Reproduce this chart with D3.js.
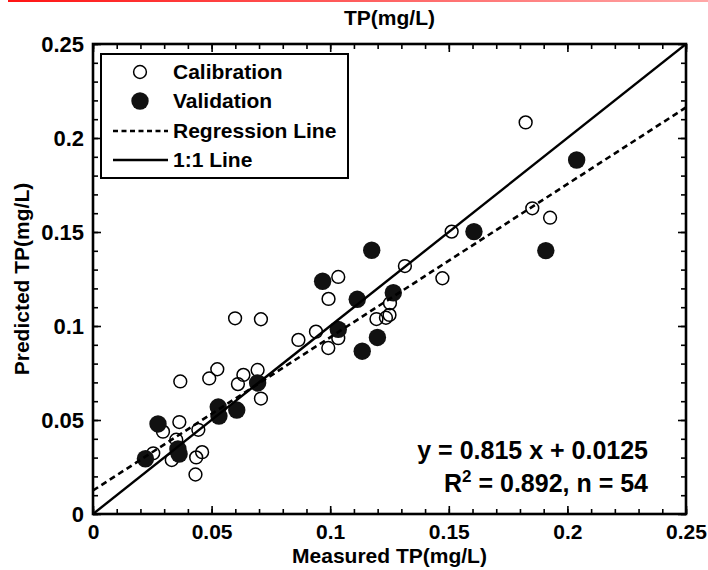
<!DOCTYPE html>
<html>
<head>
<meta charset="utf-8">
<script src="https://cdn.jsdelivr.net/npm/d3@7"></script>
<style>
  body { margin: 0; background: #fff; }
  svg text { font-family: "Liberation Sans", Arial, sans-serif; font-weight: bold; fill: #000; }
</style>
</head>
<body>
<div id="chart"></div>
<script>
// Calibration points (open circles)
var calX = [0.1824, 0.1852, 0.1927, 0.1512, 0.1315, 0.1473, 0.1034, 0.0993, 0.1252, 0.1195,
            0.1235, 0.1250, 0.0940, 0.1034, 0.0992, 0.0866, 0.0599, 0.0708, 0.0524, 0.0490,
            0.0634, 0.0611, 0.0694, 0.0708, 0.0368, 0.0364, 0.0295, 0.0351, 0.0444, 0.0460,
            0.0435, 0.0432, 0.0332, 0.0254];
var calY = [0.2083, 0.1626, 0.1576, 0.1502, 0.1319, 0.1254, 0.1261, 0.1144, 0.1121, 0.1037,
            0.1044, 0.1059, 0.0970, 0.0935, 0.0883, 0.0926, 0.1041, 0.1036, 0.0770, 0.0721,
            0.0740, 0.0691, 0.0766, 0.0614, 0.0705, 0.0489, 0.0438, 0.0395, 0.0448, 0.0329,
            0.0301, 0.0210, 0.0287, 0.0323];

// Validation points (filled circles)
var valX = [0.2039, 0.1909, 0.1606, 0.1175, 0.0968, 0.1114, 0.1266, 0.1034, 0.1199, 0.1135,
            0.0694, 0.0528, 0.0531, 0.0606, 0.0274, 0.0358, 0.0363, 0.0221];
var valY = [0.1883, 0.1401, 0.1502, 0.1403, 0.1238, 0.1142, 0.1177, 0.0982, 0.0939, 0.0866,
            0.0697, 0.0569, 0.0521, 0.0553, 0.0479, 0.0346, 0.0319, 0.0294];

var slope = 0.815, intercept = 0.0125;
var majorTicks = [0, 0.05, 0.1, 0.15, 0.2, 0.25];
var tickLabels = ["0", "0.05", "0.1", "0.15", "0.2", "0.25"];
var minorTicks = d3.range(0, 0.2501, 0.01);

var legendItems = ["Calibration", "Validation", "Regression Line", "1:1 Line"];
var eqLines = ["y = 0.815 x + 0.0125", "R", "2", " = 0.892, n = 54"];

var W = 708, H = 570;
var plot = { left: 93, right: 686, top: 44, bottom: 514 };

var svg = d3.select("#chart").append("svg")
  .attr("width", W)
  .attr("height", H);

// red strip at the very top
var grad = svg.append("defs").append("linearGradient")
  .attr("id", "topbar");
grad.append("stop").attr("offset", "0%").attr("stop-color", "#ff1414");
grad.append("stop").attr("offset", "100%").attr("stop-color", "#ffa8a8");
svg.append("rect")
  .attr("x", 8).attr("y", 0)
  .attr("width", W - 8).attr("height", 2)
  .attr("fill", "url(#topbar)");

var x = d3.scaleLinear().domain([0, 0.25]).range([plot.left, plot.right]);
var y = d3.scaleLinear().domain([0, 0.25]).range([plot.bottom, plot.top]);

// points
var g = svg.append("g").attr("class", "points");
g.selectAll("circle.cal")
  .data(d3.range(calX.length))
  .enter().append("circle")
  .attr("class", "cal")
  .attr("cx", function(i){ return x(calX[i]); })
  .attr("cy", function(i){ return y(calY[i]); })
  .attr("r", 6.4)
  .attr("fill", "none")
  .attr("stroke", "#000")
  .attr("stroke-width", 1.5);

g.selectAll("circle.val")
  .data(d3.range(valX.length))
  .enter().append("circle")
  .attr("class", "val")
  .attr("cx", function(i){ return x(valX[i]); })
  .attr("cy", function(i){ return y(valY[i]); })
  .attr("r", 8.7)
  .attr("fill", "#111");

// lines
var clip = svg.select("defs").append("clipPath").attr("id", "plotclip");
clip.append("rect")
  .attr("x", plot.left).attr("y", plot.top)
  .attr("width", plot.right - plot.left).attr("height", plot.bottom - plot.top);

svg.append("line")
  .attr("clip-path", "url(#plotclip)")
  .attr("x1", x(0)).attr("y1", y(intercept))
  .attr("x2", x(0.25)).attr("y2", y(slope * 0.25 + intercept))
  .attr("stroke", "#000")
  .attr("stroke-width", 2.6)
  .attr("stroke-dasharray", "6,4");

svg.append("line")
  .attr("clip-path", "url(#plotclip)")
  .attr("x1", x(0)).attr("y1", y(0))
  .attr("x2", x(0.25)).attr("y2", y(0.25))
  .attr("stroke", "#000")
  .attr("stroke-width", 2.4);

// axes with inward ticks on all four sides
function addAxis(axisFn, scale, transform, ticks, size, labels) {
  var a = axisFn(scale).tickValues(ticks).tickSizeInner(-size).tickSizeOuter(0);
  if (labels) a.tickFormat(function(d, i){ return labels[i]; });
  else a.tickFormat("");
  var ag = svg.append("g").attr("transform", transform).call(a);
  ag.select(".domain").remove();
  ag.selectAll(".tick line").attr("stroke", "#000").attr("stroke-width", 1.6);
  return ag;
}

addAxis(d3.axisBottom, x, "translate(0," + plot.bottom + ")", minorTicks, 5);
addAxis(d3.axisTop, x, "translate(0," + plot.top + ")", minorTicks, 5);
addAxis(d3.axisLeft, y, "translate(" + plot.left + ",0)", minorTicks, 5);
addAxis(d3.axisRight, y, "translate(" + plot.right + ",0)", minorTicks, 5);

var xb = addAxis(d3.axisBottom, x, "translate(0," + plot.bottom + ")", majorTicks, 8, tickLabels);
xb.selectAll(".tick text")
  .attr("y", 10)
  .attr("dy", "0.71em")
  .style("font-size", "21px");
addAxis(d3.axisTop, x, "translate(0," + plot.top + ")", majorTicks, 8);
var yl = addAxis(d3.axisLeft, y, "translate(" + plot.left + ",0)", majorTicks, 8, tickLabels);
yl.selectAll(".tick text")
  .attr("x", -9)
  .attr("dy", "0.35em")
  .style("font-size", "22px");
addAxis(d3.axisRight, y, "translate(" + plot.right + ",0)", majorTicks, 8);

// box
svg.append("rect")
  .attr("x", plot.left).attr("y", plot.top)
  .attr("width", plot.right - plot.left).attr("height", plot.bottom - plot.top)
  .attr("fill", "none")
  .attr("stroke", "#000")
  .attr("stroke-width", 2.6);

// titles
svg.append("text")
  .attr("x", (plot.left + plot.right) / 2).attr("y", 25)
  .attr("text-anchor", "middle")
  .style("font-size", "21px")
  .text("TP(mg/L)");

svg.append("text")
  .attr("x", (plot.left + plot.right) / 2).attr("y", 563)
  .attr("text-anchor", "middle")
  .style("font-size", "21px")
  .text("Measured TP(mg/L)");

svg.append("text")
  .attr("transform", "translate(29," + ((plot.top + plot.bottom) / 2) + ") rotate(-90)")
  .attr("text-anchor", "middle")
  .style("font-size", "21px")
  .text("Predicted TP(mg/L)");

// legend
var lg = svg.append("g").attr("class", "legend");
lg.append("rect")
  .attr("x", 101).attr("y", 54)
  .attr("width", 247).attr("height", 124)
  .attr("fill", "#fff")
  .attr("stroke", "#000")
  .attr("stroke-width", 2);

var rowY = [72, 101, 131, 160];
lg.append("circle").attr("cx", 140).attr("cy", rowY[0]).attr("r", 6.4)
  .attr("fill", "none").attr("stroke", "#000").attr("stroke-width", 1.5);
lg.append("circle").attr("cx", 140).attr("cy", rowY[1]).attr("r", 8.7)
  .attr("fill", "#111");
lg.append("line").attr("x1", 113).attr("x2", 168).attr("y1", rowY[2]).attr("y2", rowY[2])
  .attr("stroke", "#000").attr("stroke-width", 2.4).attr("stroke-dasharray", "5,3.5");
lg.append("line").attr("x1", 113).attr("x2", 168).attr("y1", rowY[3]).attr("y2", rowY[3])
  .attr("stroke", "#000").attr("stroke-width", 2.4);

lg.selectAll("text.item")
  .data(legendItems)
  .enter().append("text")
  .attr("class", "item")
  .attr("x", 173)
  .attr("y", function(d, i){ return rowY[i]; })
  .attr("dy", "0.35em")
  .style("font-size", "21px")
  .text(function(d){ return d; });

// equation
svg.append("text")
  .attr("x", 648).attr("y", 459)
  .attr("text-anchor", "end")
  .style("font-size", "25px")
  .text(eqLines[0]);

var r2 = svg.append("text")
  .attr("x", 648).attr("y", 492)
  .attr("text-anchor", "end")
  .style("font-size", "25px");
r2.append("tspan").text(eqLines[1]);
r2.append("tspan").attr("dy", -10).style("font-size", "17px").text(eqLines[2]);
r2.append("tspan").attr("dy", 10).text(eqLines[3]);
</script>
</body>
</html>
